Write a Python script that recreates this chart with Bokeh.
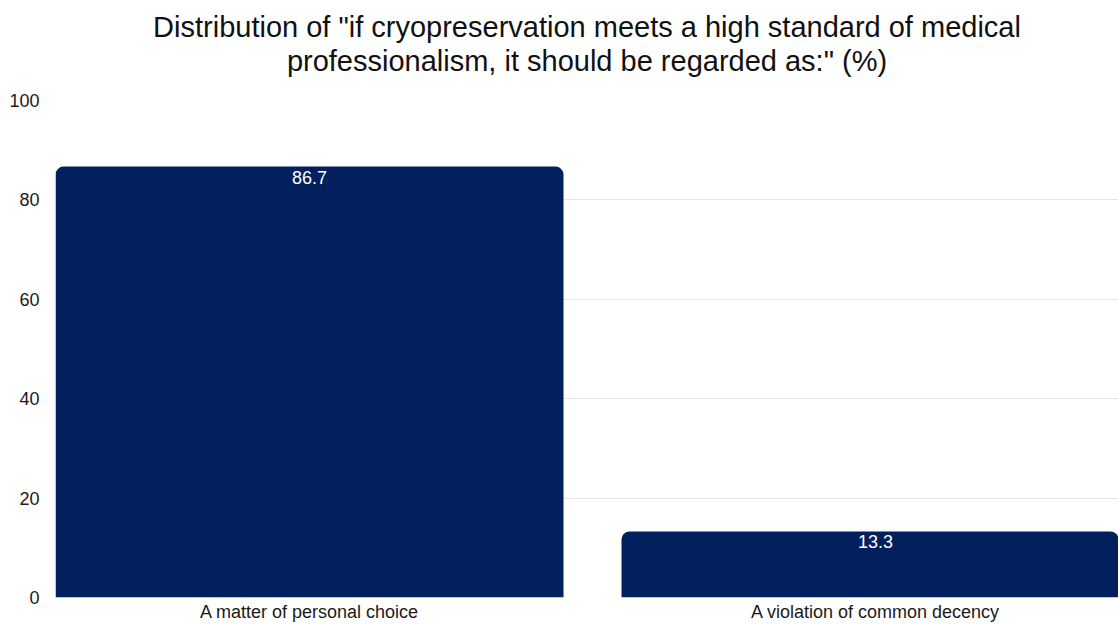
from bokeh.plotting import figure
from bokeh.models import Title, Range1d, FixedTicker, ColumnDataSource
from bokeh.core.properties import value
from bokeh.embed import file_html
from bokeh.resources import INLINE

categories = ["A matter of personal choice", "A violation of common decency"]
percentages = [86.7, 13.3]
y_ticks = [0, 20, 40, 60, 80, 100]

FONT = "Liberation Sans"
BAR = "#03205E"

xs = list(range(len(categories)))
src = ColumnDataSource(dict(x=xs, y=percentages,
                            label=[f"{v:.1f}" for v in percentages]))

p = figure(width=1118, height=624, output_backend="svg", toolbar_location=None,
           x_range=Range1d(-0.4488, 1.4293), y_range=Range1d(0, 100),
           min_border_left=55, min_border_right=0, min_border_top=100,
           min_border_bottom=0, outline_line_color=None, title=None)

# spacer between the title and the plot area
p.add_layout(Title(text=" ", align="center", text_font=FONT, text_font_size="20px",
                   offset=0, standoff=0), "above")
p.add_layout(Title(text="professionalism, it should be regarded as:\" (%)", align="center",
                   text_font=FONT, text_font_size="29px", text_font_style="normal",
                   text_color="#111111", offset=0, standoff=0), "above")
p.add_layout(Title(text="Distribution of \"if cryopreservation meets a high standard of medical",
                   align="center", text_font=FONT, text_font_size="29px",
                   text_font_style="normal", text_color="#111111", offset=0, standoff=0), "above")

p.vbar(x="x", top="y", bottom=0, width=0.8975, source=src, fill_color=BAR,
       line_color=None, border_radius=(8, 8, 0, 0))

p.text(x="x", y="y", text="label", source=src, text_color="white",
       text_font=value(FONT), text_font_size="18px", text_align="center",
       text_baseline="top", y_offset=4)

p.xaxis.ticker = FixedTicker(ticks=xs)
p.xaxis.major_label_overrides = {i: c for i, c in enumerate(categories)}
p.yaxis.ticker = FixedTicker(ticks=y_ticks)
for ax in (p.xaxis, p.yaxis):
    ax.axis_line_color = None
    ax.major_tick_line_color = None
    ax.minor_tick_line_color = None
    ax.major_tick_out = 0
    ax.major_tick_in = 0
    ax.major_label_text_font = FONT
    ax.major_label_text_font_size = "18px"
    ax.major_label_text_color = "#1a1a1a"
p.xaxis.major_label_standoff = 4
p.yaxis.major_label_standoff = 16

p.xgrid.grid_line_color = None
p.ygrid.grid_line_color = "#e6e6e6"
p.ygrid.ticker = FixedTicker(ticks=y_ticks)

open("out.html", "w").write(file_html(p, INLINE))
